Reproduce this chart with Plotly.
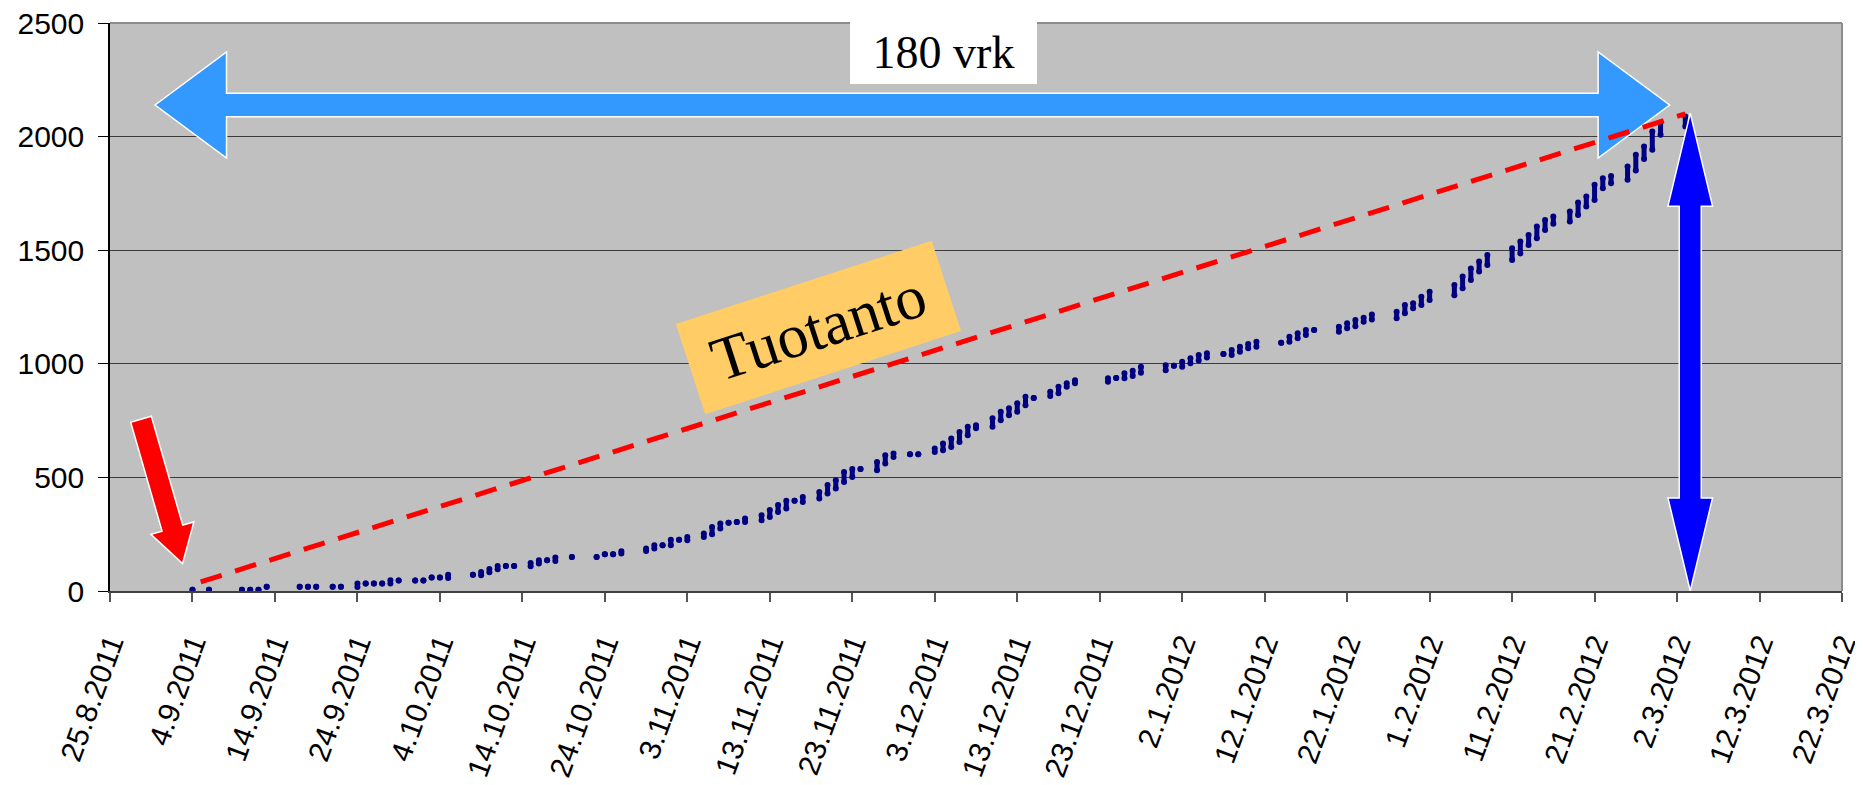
import math
import pandas as pd
import plotly.graph_objects as go

# cumulative production, one entry per day: lowest and highest reading of that day
prod_dates = [
    "2011-09-04", "2011-09-06", "2011-09-10", "2011-09-11", "2011-09-12", "2011-09-13",
    "2011-09-17", "2011-09-18", "2011-09-19", "2011-09-21", "2011-09-22", "2011-09-24",
    "2011-09-25", "2011-09-26", "2011-09-27", "2011-09-28", "2011-09-29", "2011-10-01",
    "2011-10-02", "2011-10-03", "2011-10-04", "2011-10-05", "2011-10-08", "2011-10-09",
    "2011-10-10", "2011-10-11", "2011-10-12", "2011-10-13", "2011-10-15", "2011-10-16",
    "2011-10-17", "2011-10-18", "2011-10-20", "2011-10-23", "2011-10-24", "2011-10-25",
    "2011-10-26", "2011-10-29", "2011-10-30", "2011-10-31", "2011-11-01", "2011-11-02",
    "2011-11-03", "2011-11-05", "2011-11-06", "2011-11-07", "2011-11-08", "2011-11-09",
    "2011-11-10", "2011-11-12", "2011-11-13", "2011-11-14", "2011-11-15", "2011-11-16",
    "2011-11-17", "2011-11-19", "2011-11-20", "2011-11-21", "2011-11-22", "2011-11-23",
    "2011-11-24", "2011-11-26", "2011-11-27", "2011-11-28", "2011-11-30", "2011-12-01",
    "2011-12-03", "2011-12-04", "2011-12-05", "2011-12-06", "2011-12-07", "2011-12-08",
    "2011-12-10", "2011-12-11", "2011-12-12", "2011-12-13", "2011-12-14", "2011-12-15",
    "2011-12-17", "2011-12-18", "2011-12-19", "2011-12-20", "2011-12-24", "2011-12-25",
    "2011-12-26", "2011-12-27", "2011-12-28", "2011-12-31", "2012-01-01", "2012-01-02",
    "2012-01-03", "2012-01-04", "2012-01-05", "2012-01-07", "2012-01-08", "2012-01-09",
    "2012-01-10", "2012-01-11", "2012-01-14", "2012-01-15", "2012-01-16", "2012-01-17",
    "2012-01-18", "2012-01-21", "2012-01-22", "2012-01-23", "2012-01-24", "2012-01-25",
    "2012-01-28", "2012-01-29", "2012-01-30", "2012-01-31", "2012-02-01", "2012-02-04",
    "2012-02-05", "2012-02-06", "2012-02-07", "2012-02-08", "2012-02-11", "2012-02-12",
    "2012-02-13", "2012-02-14", "2012-02-15", "2012-02-16", "2012-02-18", "2012-02-19",
    "2012-02-20", "2012-02-21", "2012-02-22", "2012-02-23", "2012-02-25", "2012-02-26",
    "2012-02-27", "2012-02-28", "2012-02-29", "2012-03-03",
]
prod_low = [
    6, 6, 6, 6, 6, 19, 19, 19, 19, 19, 19, 18,
    33, 33, 33, 33, 46, 46, 46, 59, 59, 57, 72, 69,
    82, 96, 110, 110, 109, 121, 135, 132, 150, 150, 162, 162,
    165, 176, 187, 201, 201, 226, 223, 238, 250, 275, 300, 304,
    304, 311, 326, 348, 363, 397, 392, 407, 429, 451, 480, 502,
    537, 532, 561, 590, 602, 602, 612, 620, 634, 656, 686, 716,
    723, 752, 774, 789, 818, 850, 858, 870, 899, 914, 921, 938,
    936, 946, 961, 972, 991, 987, 1002, 1014, 1028, 1043, 1039, 1053,
    1068, 1075, 1093, 1097, 1112, 1127, 1149, 1141, 1156, 1165, 1185, 1195,
    1200, 1222, 1244, 1259, 1281, 1302, 1332, 1369, 1406, 1435, 1457, 1486,
    1523, 1553, 1589, 1616, 1626, 1655, 1692, 1721, 1773, 1795, 1810, 1851,
    1901, 1942, 2008, 2044,
]
prod_high = [
    6, 6, 6, 6, 6, 19, 19, 19, 19, 19, 19, 33,
    33, 33, 33, 47, 46, 46, 46, 59, 59, 72, 72, 84,
    97, 110, 110, 110, 123, 135, 135, 147, 150, 150, 162, 162,
    175, 187, 201, 201, 226, 226, 238, 253, 282, 297, 300, 304,
    319, 333, 356, 378, 397, 397, 414, 436, 466, 488, 524, 537,
    537, 568, 598, 605, 602, 602, 627, 649, 671, 700, 723, 730,
    760, 789, 804, 826, 855, 850, 877, 899, 914, 928, 936, 938,
    958, 969, 987, 994, 991, 1009, 1024, 1039, 1046, 1043, 1061, 1075,
    1087, 1097, 1093, 1119, 1134, 1149, 1149, 1163, 1178, 1193, 1203, 1217,
    1229, 1259, 1266, 1295, 1317, 1347, 1384, 1420, 1450, 1479, 1509, 1538,
    1567, 1604, 1633, 1648, 1670, 1710, 1736, 1788, 1817, 1827, 1868, 1920,
    1956, 2022, 2062, 2088,
]

# straight "Tuotanto" reference line
trend_dates = ["2011-09-05", "2012-03-03"]
trend_vals = [40, 2100]

tick_labels = [
    "25.8.2011", "4.9.2011", "14.9.2011", "24.9.2011", "4.10.2011", "14.10.2011",
    "24.10.2011", "3.11.2011", "13.11.2011", "23.11.2011", "3.12.2011", "13.12.2011",
    "23.12.2011", "2.1.2012", "12.1.2012", "22.1.2012", "1.2.2012", "11.2.2012",
    "21.2.2012", "2.3.2012", "12.3.2012", "22.3.2012",
]

start = pd.Timestamp("2011-08-25")


def to_day(dates):
    return [(pd.Timestamp(d) - start).days for d in dates]


days = to_day(prod_dates)
trend_days = to_day(trend_dates)

# the page body keeps its default 8px margin, so the figure is 8px smaller
W, H = 1855, 777
margin = dict(l=102, r=21, t=15, b=194, pad=0)
x_range = [0, 210]
y_range = [0, 2500]
sx = (W - margin["l"] - margin["r"]) / (x_range[1] - x_range[0])
sy = (H - margin["t"] - margin["b"]) / (y_range[1] - y_range[0])


def arrow(x0, y0, x1, y1, shaft, head_w, head_len, double=False):
    # arrow polygon built in pixels, returned as a path in data units
    ax, ay, bx, by = x0 * sx, y0 * sy, x1 * sx, y1 * sy
    length = math.hypot(bx - ax, by - ay)
    ux, uy = (bx - ax) / length, (by - ay) / length
    nx, ny = -uy, ux
    L, hs, hw = length, shaft / 2, head_w / 2
    if double:
        pts = [(0, 0), (head_len, hw), (head_len, hs), (L - head_len, hs), (L - head_len, hw),
               (L, 0), (L - head_len, -hw), (L - head_len, -hs), (head_len, -hs), (head_len, -hw)]
    else:
        pts = [(0, hs), (L - head_len, hs), (L - head_len, hw), (L, 0),
               (L - head_len, -hw), (L - head_len, -hs), (0, -hs)]
    xy = [((ax + t * ux + s * nx) / sx, (ay + t * uy + s * ny) / sy) for t, s in pts]
    return "M " + " L ".join(f"{x:.4f},{y:.3f}" for x, y in xy) + " Z"


fig = go.Figure()

fig.add_trace(go.Scatter(
    x=days, y=prod_low, mode="markers",
    marker=dict(color="#000080", size=6),
    error_y=dict(type="data", symmetric=False,
                 array=[h - l for h, l in zip(prod_high, prod_low)],
                 arrayminus=[0] * len(days), width=0, thickness=5, color="#000080"),
    cliponaxis=False, showlegend=False,
))
fig.add_trace(go.Scatter(
    x=days, y=prod_high, mode="markers",
    marker=dict(color="#000080", size=6),
    cliponaxis=False, showlegend=False,
))
fig.add_trace(go.Scatter(
    x=trend_days, y=trend_vals, mode="lines",
    line=dict(color="#FF0000", width=5, dash="22px,14px"),
    showlegend=False,
))

shapes = [
    # plot frame, top and right
    dict(type="line", xref="paper", yref="paper", x0=0, x1=1, y0=1, y1=1,
         line=dict(color="#8c8c8c", width=2), layer="above"),
    dict(type="line", xref="paper", yref="paper", x0=1, x1=1, y0=0, y1=1,
         line=dict(color="#8c8c8c", width=2), layer="above"),
    # 180 vrk span
    dict(type="path", xref="x", yref="y", layer="between",
         path=arrow(5.46, 2139, 189.1, 2139, 23.3, 106, 71.5, double=True),
         fillcolor="#3399FF", line=dict(color="white", width=1.5)),
    # vertical span at the end
    dict(type="path", xref="x", yref="y", layer="above",
         path=arrow(191.6, 0, 191.6, 2103, 22, 44.6, 93, double=True),
         fillcolor="#0000FF", line=dict(color="white", width=1.5)),
    # start marker
    dict(type="path", xref="x", yref="y", layer="above",
         path=arrow(3.76, 756, 8.80, 121, 21.5, 44.7, 36.8),
         fillcolor="#FF0000", line=dict(color="white", width=1.5)),
]

annotations = [
    dict(x=101.0, y=2372, xref="x", yref="y", text="180 vrk", showarrow=False,
         xanchor="center", yanchor="middle", width=187, height=64,
         bgcolor="white", borderpad=0, borderwidth=0,
         font=dict(family="Liberation Serif", size=46, color="black")),
    dict(x=85.9, y=1159, xref="x", yref="y", text="Tuotanto", showarrow=False,
         xanchor="center", yanchor="middle", width=269, height=95, textangle=-18,
         bgcolor="#FFCC66", borderpad=0, borderwidth=0,
         font=dict(family="Liberation Serif", size=62, color="black")),
]

fig.update_layout(
    width=W, height=H, margin=margin,
    paper_bgcolor="white", plot_bgcolor="#C0C0C0",
    shapes=shapes, annotations=annotations,
    xaxis=dict(
        range=x_range, tickmode="array", automargin=False,
        tickvals=list(range(0, 211, 10)), ticktext=tick_labels, tickangle=-70,
        ticks="outside", ticklen=9, tickcolor="#555555", tickwidth=1.5,
        showgrid=False, zeroline=False,
        showline=True, linecolor="#404040", linewidth=2,
        ticklabelstandoff=12, ticklabeloverflow="allow",
        tickfont=dict(family="Liberation Sans", size=30, color="black"),
    ),
    yaxis=dict(
        range=y_range, tickmode="linear", tick0=0, dtick=500, automargin=False,
        ticks="outside", ticklen=10, tickcolor="black", tickwidth=1,
        showgrid=True, gridcolor="#3c3c3c", gridwidth=1, zeroline=False,
        showline=True, linecolor="black", linewidth=1.5,
        ticklabelstandoff=8, ticklabeloverflow="allow",
        tickfont=dict(family="Liberation Sans", size=30, color="black"),
    ),
)

fig.write_html("out.html")
